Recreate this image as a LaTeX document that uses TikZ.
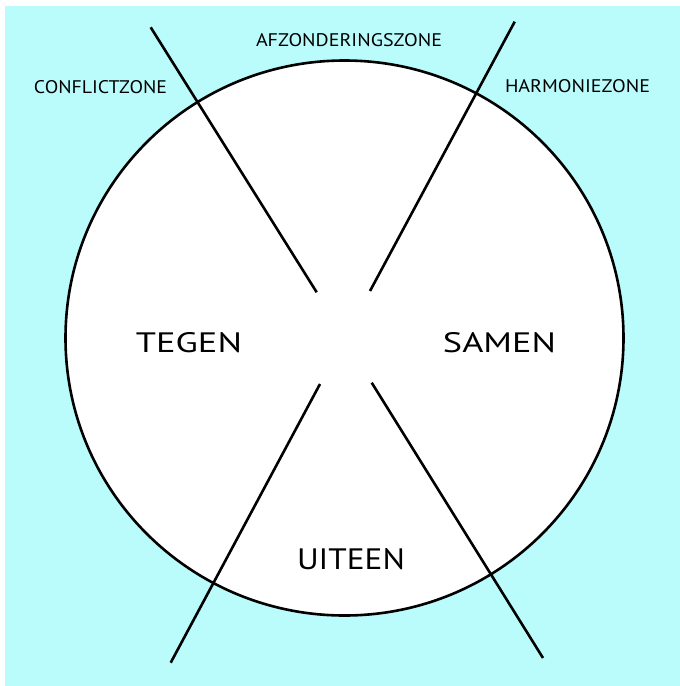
\documentclass[tikz,border=0pt]{standalone}
\usepackage{fontspec}
\usepackage{graphicx}
\usetikzlibrary{shapes.geometric}
\setmainfont{PT Sans}
\definecolor{bgcyan}{RGB}{186,252,252}
\tikzset{
  divline/.style={line width=2.6pt, black},
  zonelabel/.style={inner sep=0pt, anchor=center},
  biglabel/.style={inner sep=0pt, anchor=center}
}
\begin{document}
\begin{tikzpicture}[x=1pt,y=-1pt]
\useasboundingbox (0,0) rectangle (680,686);
\fill[white] (0,0) rectangle (680,686);
\fill[bgcyan] (5,6) rectangle (680,686);
\node[ellipse, draw, line width=2.6pt, fill=white, inner sep=0pt, outer sep=0pt,
      minimum width=558pt, minimum height=555pt] (circ) at (344.5,338) {};
% line end points
\coordinate (ula) at (150.7,27.3);
\coordinate (ulb) at (316.7,292.3);
\coordinate (ura) at (514.7,21.7);
\coordinate (urb) at (370,291);
\coordinate (lla) at (320,384);
\coordinate (llb) at (170.7,662.7);
\coordinate (lra) at (371.7,382.7);
\coordinate (lrb) at (543,658);
\draw[divline] (ula) -- (ulb);
\draw[divline] (ura) -- (urb);
\draw[divline] (lla) -- (llb);
\draw[divline] (lra) -- (lrb);
% labels
\node[zonelabel] (afz) at (349,40) {\resizebox{186pt}{13pt}{AFZONDERINGSZONE}};
\node[zonelabel] (con) at (100.5,87) {\resizebox{133pt}{13pt}{CONFLICTZONE}};
\node[zonelabel] (har) at (577.5,86) {\resizebox{145pt}{13pt}{HARMONIEZONE}};
\node[biglabel] (teg) at (189,343) {\resizebox{106pt}{20pt}{TEGEN}};
\node[biglabel] (sam) at (499.5,343) {\resizebox{113pt}{20pt}{SAMEN}};
\node[biglabel] (uit) at (351,559) {\resizebox{108pt}{21pt}{UITEEN}};
\end{tikzpicture}
\end{document}
